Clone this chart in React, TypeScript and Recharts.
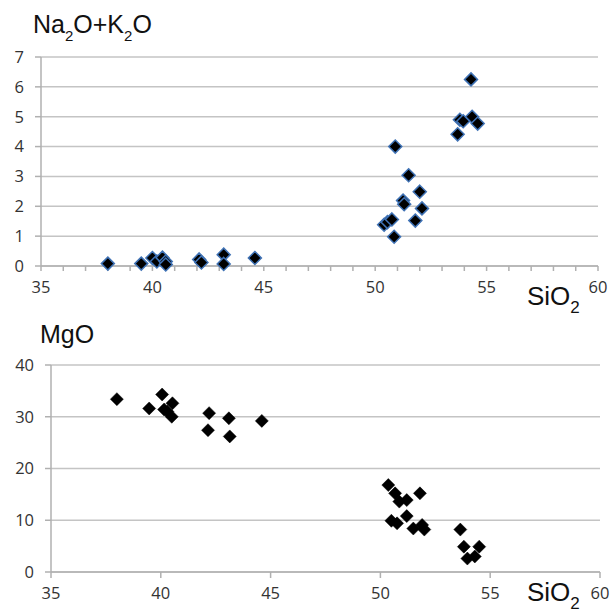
import React from 'react';
import { ScatterChart, Scatter, XAxis, YAxis, CartesianGrid } from 'recharts';

const topSiO2 = [38.0, 39.5, 40.0, 40.2, 40.45, 40.6, 40.6, 42.1, 42.2, 43.2, 43.2, 44.6,
  50.4, 50.55, 50.75, 50.85, 50.9, 51.25, 51.3, 51.5, 51.8, 52.0, 52.1, 53.7, 53.8, 53.95, 54.3, 54.35, 54.6];
const topAlk = [0.08, 0.08, 0.27, 0.15, 0.28, 0.15, 0.05, 0.22, 0.12, 0.38, 0.07, 0.27,
  1.38, 1.47, 1.56, 0.98, 4.0, 2.19, 2.07, 3.04, 1.52, 2.49, 1.93, 4.41, 4.9, 4.85, 6.25, 5.0, 4.77];

const botSiO2 = [38.0, 39.47, 40.06, 40.15, 40.3, 40.53, 40.5, 42.2, 42.15, 43.1, 43.14, 44.6,
  50.36, 50.67, 50.86, 51.2, 51.8, 50.5, 50.76, 51.2, 51.5, 51.9, 52.0, 53.64, 53.8, 54.5, 53.96, 54.3];
const botMgO = [33.4, 31.6, 34.3, 31.4, 31.0, 32.6, 30.0, 30.7, 27.4, 29.7, 26.2, 29.2,
  16.8, 15.2, 13.6, 13.9, 15.2, 9.9, 9.4, 10.8, 8.4, 9.1, 8.2, 8.2, 4.9, 4.9, 2.6, 3.0];

const topXTicks = Array.from({ length: 26 }, (_, i) => 35 + i);
const topYTicks = [0, 1, 2, 3, 4, 5, 6, 7];
const botXTicks = [35, 40, 45, 50, 55, 60];
const botYTicks = [0, 10, 20, 30, 40];

const topData = topSiO2.map((x, i) => ({ x, y: topAlk[i] }));
const botData = botSiO2.map((x, i) => ({ x, y: botMgO[i] }));

const FS = 16.5;
const tickStyle = { fill: '#333', fontSize: FS, fontFamily: 'Open Sans' };
const gridColor = '#c4c4c4';
const axisColor = '#b0b0b0';

const makeDiamond = (stroke: string, sw: number) => (props: any) => {
  const { cx, cy } = props;
  const r = 6.5;
  return (
    <path
      d={`M${cx},${cy - r}L${cx + r},${cy}L${cx},${cy + r}L${cx - r},${cy}Z`}
      fill="#000"
      stroke={stroke}
      strokeWidth={sw}
    />
  );
};

const titleStyle: React.CSSProperties = {
  position: 'absolute',
  fontFamily: 'Liberation Sans, Arial, sans-serif',
  fontSize: 25,
  lineHeight: '25px',
  color: '#111',
  whiteSpace: 'nowrap',
};
const sub: React.CSSProperties = { fontSize: 15, verticalAlign: '-8px', lineHeight: 0 };
const sub2: React.CSSProperties = { fontSize: 17, verticalAlign: '-8px', lineHeight: 0 };

export default function App() {
  return (
    <div style={{ position: 'absolute', left: 0, top: 0, width: 613, height: 612, background: '#fff', overflow: 'hidden', fontFamily: 'Open Sans' }}>
      <div style={{ position: 'absolute', left: 0, top: 0 }}>
        <ScatterChart width={613} height={300} margin={{ top: 57, right: 15, bottom: 9, left: 11 }} style={{ fontFamily: 'Open Sans' }}>
          <CartesianGrid vertical={false} stroke={gridColor} strokeWidth={1.5} />
          <XAxis
            type="number"
            dataKey="x"
            domain={[35, 60]}
            ticks={topXTicks}
            interval={0}
            tickFormatter={(v: number) => (v % 5 === 0 ? String(v) : '')}
            tick={tickStyle}
            fontSize={FS}
            tickSize={5}
            tickMargin={10}
            height={25}
            axisLine={{ stroke: axisColor, strokeWidth: 1.5 }}
            tickLine={{ stroke: axisColor, strokeWidth: 1.5 }}
          />
          <YAxis
            type="number"
            dataKey="y"
            domain={[0, 7]}
            ticks={topYTicks}
            interval={0}
            tick={tickStyle}
            fontSize={FS}
            tickSize={6}
            tickMargin={11}
            width={30}
            axisLine={{ stroke: axisColor, strokeWidth: 1.5 }}
            tickLine={{ stroke: axisColor, strokeWidth: 1.5 }}
          />
          <Scatter data={topData} isAnimationActive={false} shape={makeDiamond('#3f72b5', 1.5)} />
        </ScatterChart>
      </div>
      <div style={{ position: 'absolute', left: 0, top: 300 }}>
        <ScatterChart width={613} height={312} margin={{ top: 65, right: 13, bottom: 15, left: 11 }} style={{ fontFamily: 'Open Sans' }}>
          <CartesianGrid vertical={false} stroke={gridColor} strokeWidth={1.5} />
          <XAxis
            type="number"
            dataKey="x"
            domain={[35, 60]}
            ticks={botXTicks}
            interval={0}
            tick={tickStyle}
            fontSize={FS}
            tickSize={6}
            tickMargin={9}
            height={25}
            axisLine={{ stroke: axisColor, strokeWidth: 1.5 }}
            tickLine={{ stroke: axisColor, strokeWidth: 1.5 }}
          />
          <YAxis
            type="number"
            dataKey="y"
            domain={[0, 40]}
            ticks={botYTicks}
            interval={0}
            tick={tickStyle}
            fontSize={FS}
            tickSize={6}
            tickMargin={11}
            width={40}
            axisLine={{ stroke: axisColor, strokeWidth: 1.5 }}
            tickLine={{ stroke: axisColor, strokeWidth: 1.5 }}
          />
          <Scatter data={botData} isAnimationActive={false} shape={makeDiamond('#000', 0.5)} />
        </ScatterChart>
      </div>
      <div style={{ ...titleStyle, left: 33, top: 12 }}>
        Na<span style={sub}>2</span>O+K<span style={sub}>2</span>O
      </div>
      <div style={{ ...titleStyle, left: 40, top: 322 }}>MgO</div>
      <div style={{ ...titleStyle, fontSize: 26, lineHeight: '26px', left: 527, top: 283 }}>
        SiO<span style={sub2}>2</span>
      </div>
      <div style={{ ...titleStyle, fontSize: 26, lineHeight: '26px', left: 527, top: 579 }}>
        SiO<span style={sub2}>2</span>
      </div>
    </div>
  );
}
